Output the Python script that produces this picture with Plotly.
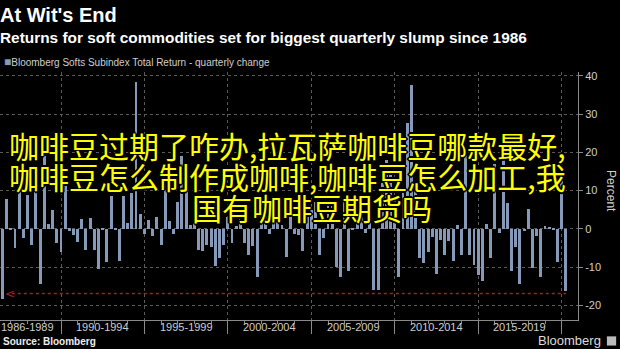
import pandas as pd
import plotly.graph_objects as go

# ---------------- data ----------------
quarters = [str(p) for p in pd.period_range("1986Q2", "2020Q1", freq="Q")]
returns = [
    -18.2, 7.7, -0.4, -5.1, 12.0, -2.3, 8.8, -4.1, 11.0, -14.4,
    19.0, 1.4, 4.9, -3.8, -6.0, 14.0, -0.5, -1.7, -3.4, 2.5,
    -5.4, 2.9, -5.4, -10.4, -0.3, -8.6, 8.6, -0.3, -8.4, 8.6,
    1.6, 9.4, 38.4, 4.0, -1.2, 2.4, -1.8, 3.0, -4.3, 12.0,
    2.0, -1.2, 7.0, 19.0, 12.0, 1.1, 1.6, -5.6, -5.7, -4.1,
    -4.7, -9.7, -7.5, -4.3, 3.0, -3.8, 0.7, 3.7, -3.8, -6.9,
    -4.5, -12.5, 5.0, 6.0, -1.4, 4.5, 6.0, 1.1, -7.3, 5.0,
    -1.2, -1.7, -5.8, 3.2, 5.0, 7.0, -6.8, -2.4, 6.0, 9.0,
    -10.0, -12.6, 8.0, -11.0, -0.3, 6.0, 3.0, -1.1, 8.0, -16.0,
    -16.0, 12.0, 18.0, 15.0, 8.0, -12.5, 10.0, 27.6, 37.6, 10.0,
    -7.5, -8.8, -6.0, -2.1, -11.8, -3.0, -6.9, -3.2, -8.5, 1.0,
    -6.9, 20.0, -6.9, -9.5, -12.1, -13.5, 1.4, -7.5, 17.0, -1.0,
    20.6, 6.8, -11.1, -4.8, -14.3, -0.6, 5.3, -10.1, -1.8, -12.5,
    0.8, 0.5, -0.2, -8.6, 15.5, -16.3,
]
period_labels = ["1986-1989", "1990-1994", "1995-1999", "2000-2004",
                 "2005-2009", "2010-2014", "2015-2019"]
period_starts = [1986, 1990, 1995, 2000, 2005, 2010, 2015]
period_ends = [1990, 1995, 2000, 2005, 2010, 2015, 2020]
y_ticks = [-20, -10, 0, 10, 20, 30, 40]
ref_level = -16.9

title = "At Wit's End"
subtitle = "Returns for soft commodities set for biggest quarterly slump since 1986"
series_name = "Bloomberg Softs Subindex Total Return - quarterly change"
overlay_lines = ["咖啡豆过期了咋办,拉瓦萨咖啡豆哪款最好,",
                 "咖啡豆怎么制作成咖啡,咖啡豆怎么加工,我",
                 "国有咖啡豆期货吗"]

# ---------------- styling ----------------
BG = "#000000"
BAR = "#8799b8"
GRID = "#5a5a5a"
AXIS = "#8a8a8a"
TXT = "#cfcfcf"
RED = "#a3202f"
FONT = "Liberation Sans, Arial, sans-serif"
CJK = "Noto Sans CJK SC"

X_START = pd.Timestamp("1986-05-07")
X_END = pd.Timestamp("2020-12-23")

x_dates = [pd.Period(q, freq="Q").end_time.normalize() for q in quarters]
bar_width_ms = 64 * 86400000

fig = go.Figure()
fig.add_trace(go.Bar(
    x=x_dates, y=returns, width=[bar_width_ms] * len(returns),
    marker=dict(color=BAR, line=dict(width=0)),
    showlegend=False, hoverinfo="x+y",
))

annotations = []
# period labels under the axis (placed at the middle of each period)
span = (X_END - X_START)
for lab, s, e in zip(period_labels, period_starts, period_ends):
    t0 = pd.Timestamp(f"{s}-01-01")
    t1 = pd.Timestamp(f"{e}-01-01")
    mid = t0 + (t1 - t0) / 2
    frac = float((mid - X_START) / span)
    annotations.append(dict(x=frac, y=-0.029, xref="paper", yref="paper",
                            text=lab, showarrow=False, xanchor="center", yanchor="middle",
                            font=dict(size=11, color=TXT, family=FONT)))

# arrow head of the reference line
annotations.append(dict(x=pd.Timestamp("1986-12-20"), y=ref_level, xref="x", yref="y",
                        text="<", showarrow=False, xanchor="center", yanchor="middle",
                        font=dict(size=12, color=RED, family="DejaVu Sans")))

# titles
annotations += [
    dict(x=0, y=1.2315, xref="paper", yref="paper", text=f"<b>{title}</b>",
         showarrow=False, xanchor="left", yanchor="middle", xshift=-2,
         font=dict(size=20, color="#ffffff", family=FONT)),
    dict(x=0, y=1.141, xref="paper", yref="paper", text=f"<b>{subtitle}</b>",
         showarrow=False, xanchor="left", yanchor="middle", xshift=-2,
         font=dict(size=15.4, color="#ffffff", family=FONT)),
    dict(x=0, y=1.040, xref="paper", yref="paper",
         text=f'<span style="color:{BAR};font-size:12px">■</span>{series_name}',
         showarrow=False, xanchor="left", yanchor="middle", xshift=2,
         font=dict(size=10, color=TXT, family=FONT)),
    dict(x=1.057, y=0.52, xref="paper", yref="paper", text="Percent",
         showarrow=False, textangle=90, xanchor="center", yanchor="middle",
         font=dict(size=12, color=TXT, family=FONT)),
    dict(x=0, y=-0.0887, xref="paper", yref="paper", text="<b>Source: Bloomberg</b>",
         showarrow=False, xanchor="left", yanchor="middle", xshift=1,
         font=dict(size=10, color="#eeeeee", family=FONT)),
    dict(x=1.044, y=-0.0835, xref="paper", yref="paper", text="Bloomberg",
         showarrow=False, xanchor="right", yanchor="middle",
         font=dict(size=13, color="#dddddd", family=FONT)),
]

# overlay Chinese text
outline = ("-1px -1px 0 #000, 1px -1px 0 #000, -1px 1px 0 #000, 1px 1px 0 #000, "
           "0 2px 0 #000, 0 -2px 0 #000, 2px 0 0 #000, -2px 0 0 #000")
overlay_x = [0.498, 0.498, 0.54]
overlay_y = [0.7056, 0.5826, 0.4576]
for line, ox, oy in zip(overlay_lines, overlay_x, overlay_y):
    annotations.append(dict(x=ox, y=oy, xref="paper", yref="paper", text=line,
                            showarrow=False, xanchor="center", yanchor="middle",
                            font=dict(size=30, color="#ffff00", family=CJK,
                                      shadow=outline)))

shapes = [
    # reference line for the latest slump, pointing back to 1986
    dict(type="line", xref="x", yref="y",
         x0=pd.Timestamp("1987-01-20"), x1=x_dates[-1],
         y0=ref_level, y1=ref_level,
         line=dict(color=RED, width=1.5, dash="dot")),
    # small logo square next to "Bloomberg"
    dict(type="rect", xref="paper", yref="paper",
         x0=1.050, x1=1.066, y0=-0.103, y1=-0.066,
         line=dict(width=0), fillcolor="#bbbbbb"),
]

fig.update_layout(
    width=620, height=349,
    margin=dict(l=0, r=42, t=72, b=29),
    paper_bgcolor=BG, plot_bgcolor=BG,
    font=dict(family=FONT, color=TXT),
    bargap=0,
    xaxis=dict(
        type="date", range=[X_START, X_END],
        tickmode="linear", tick0="1990-01-01", dtick="M60",
        showticklabels=False, ticks="outside", ticklen=13,
        tickcolor=AXIS, tickwidth=1,
        showgrid=True, gridcolor=GRID, griddash="dot", gridwidth=1,
        showline=True, linecolor=AXIS, linewidth=1, zeroline=False,
        minor=dict(tick0="1990-01-01", dtick="M12", ticks="outside",
                   ticklen=3, tickcolor=AXIS, showgrid=False),
    ),
    yaxis=dict(
        side="right", range=[-23.8, 41],
        tickmode="array", tickvals=y_ticks,
        ticktext=[str(v) for v in y_ticks],
        ticks="outside", ticklen=4, tickcolor=AXIS,
        tickfont=dict(size=11, color=TXT, family=FONT),
        showgrid=True, gridcolor=GRID, griddash="dot", gridwidth=1,
        zeroline=False, showline=True, linecolor=AXIS, linewidth=1,
    ),
    annotations=annotations,
    shapes=shapes,
)

fig.write_html("out.html")
